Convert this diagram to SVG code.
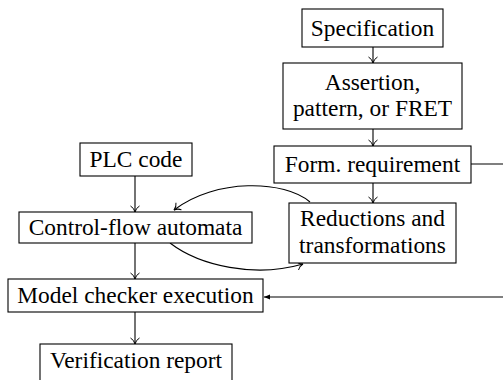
<svg xmlns="http://www.w3.org/2000/svg" width="503" height="380" viewBox="0 0 503 380">
<style>
.box{fill:#fff;stroke:#000;stroke-width:1.1}
.t{font-family:'Liberation Serif','Times New Roman','DejaVu Serif',serif;font-size:23.4px;text-anchor:middle;fill:#000}
.c{fill:none;stroke:#000;stroke-width:1.1}
</style>
<defs>
<marker id="to" markerWidth="12" markerHeight="12" refX="9" refY="6" orient="auto" markerUnits="userSpaceOnUse">
<path d="M3,1.5 Q5,5 9,6 Q5,7 3,10.5" fill="none" stroke="#000" stroke-width="1"/>
</marker>
<marker id="st" markerWidth="10" markerHeight="10" refX="8" refY="5" orient="auto" markerUnits="userSpaceOnUse">
<path d="M2,2.5 L8,5 L2,7.5 Z" fill="#000" stroke="none"/>
</marker>
</defs>
<g id="connectors">
<path class="c" d="M373,47 V63" marker-end="url(#to)"/>
<path class="c" d="M373,129 V146" marker-end="url(#to)"/>
<path class="c" d="M373,183 V203" marker-end="url(#to)"/>
<path class="c" d="M135,176 V212" marker-end="url(#to)"/>
<path class="c" d="M135,243 V279" marker-end="url(#to)"/>
<path class="c" d="M135,312 V344" marker-end="url(#to)"/>
<path class="c" d="M310,202 C285,180 215,178 174,210" marker-end="url(#to)"/>
<path class="c" d="M170,243 C200,266 255,278 303,264" marker-end="url(#to)"/>
<path class="c" d="M471,164 H512 V297 H264" marker-end="url(#st)"/>
</g>
<g font-family="Liberation Serif, serif">
<g id="spec"><rect class="box" x="302" y="9" width="141" height="38"/><text class="t" x="372.5" y="35.5">Specification</text></g>
<g id="assertion"><rect class="box" x="283" y="63" width="179" height="66"/><text class="t" x="372.5" y="89.5">Assertion,</text><text class="t" x="372.5" y="115.5">pattern, or FRET</text></g>
<g id="formreq"><rect class="box" x="274" y="146" width="197" height="37"/><text class="t" x="372.5" y="172">Form. requirement</text></g>
<g id="plc"><rect class="box" x="80" y="143" width="112" height="33"/><text class="t" x="136" y="167">PLC code</text></g>
<g id="cfa"><rect class="box" x="19" y="212" width="233" height="31"/><text class="t" x="135.5" y="235">Control-flow automata</text></g>
<g id="reductions"><rect class="box" x="289" y="203" width="167" height="60"/><text class="t" x="372.5" y="225.5">Reductions and</text><text class="t" x="372.5" y="253">transformations</text></g>
<g id="mc"><rect class="box" x="8" y="279" width="255" height="33"/><text class="t" x="135.5" y="303">Model checker execution</text></g>
<g id="report"><rect class="box" x="40" y="344" width="192" height="42"/><text class="t" x="136" y="368">Verification report</text></g>
</g>
</svg>
